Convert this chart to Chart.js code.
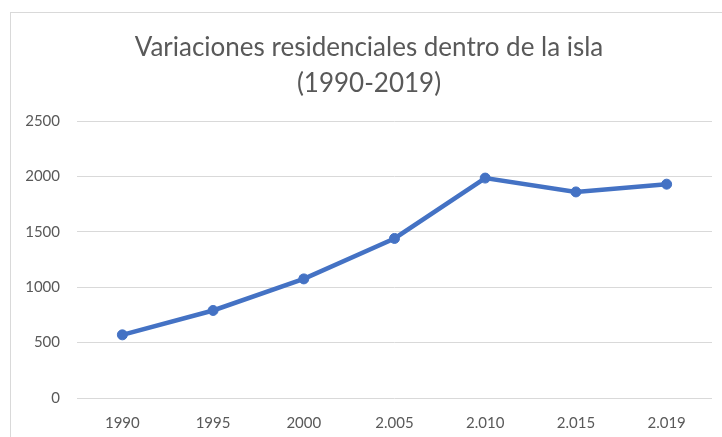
<!DOCTYPE html>
<html>
<head>
<meta charset="utf-8">
<script src="https://cdn.jsdelivr.net/npm/chart.js@4.4.1/dist/chart.umd.min.js"></script>
<style>
  html, body { margin: 0; padding: 0; background: #fff; }
  #frame { position: absolute; left: 10px; top: 12px; width: 800px; height: 500px;
           border-left: 1px solid #d9d9d9; border-top: 1px solid #d9d9d9; }
  #wrap { position: absolute; left: 0; top: 0; width: 722px; height: 437px; }
</style>
</head>
<body>
<div id="frame"></div>
<div id="wrap"><canvas id="lineChart"></canvas></div>
<script>
// datos
const years = ['1990', '1995', '2000', '2.005', '2.010', '2.015', '2.019'];
const residencias = [570, 790, 1075, 1440, 1985, 1860, 1930];
const yTicks = [0, 500, 1000, 1500, 2000, 2500];

const ctx = document.getElementById('lineChart').getContext('2d');

new Chart(ctx, {
    type: 'line',
    data: {
        labels: years,
        datasets: [{
            label: 'Variaciones',
            data: residencias,
            borderColor: '#4472c4',
            backgroundColor: '#4472c4',
            borderWidth: 4.5,
            pointBackgroundColor: '#4472c4',
            pointBorderColor: '#4472c4',
            pointRadius: 5,
            pointBorderWidth: 1,
            tension: 0,
            fill: false
        }]
    },
    options: {
        responsive: true,
        maintainAspectRatio: false,
        animation: false,
        layout: {
            padding: { left: 26, right: 10, top: 0, bottom: 0 }
        },
        plugins: {
            legend: { display: false },
            tooltip: { enabled: false },
            title: {
                display: true,
                text: ['Variaciones residenciales dentro de la isla', '(1990-2019)'],
                color: '#595959',
                font: { family: 'Lato', size: 26, weight: 'normal', lineHeight: 1.385 },
                padding: { top: 30, bottom: 19 }
            }
        },
        scales: {
            y: {
                min: yTicks[0],
                max: yTicks[yTicks.length - 1],
                afterBuildTicks: function(scale) {
                    scale.ticks = yTicks.map(v => ({ value: v }));
                },
                afterFit: function(scale) { scale.width = 51; },
                grid: { color: '#d9d9d9', lineWidth: 1, drawTicks: false },
                border: { display: false },
                ticks: {
                    color: '#595959',
                    padding: 17,
                    font: { family: 'Lato', size: 15 },
                    callback: function(value) { return String(value); }
                }
            },
            x: {
                offset: true,
                afterFit: function(scale) { scale.height = 39; },
                grid: { display: false },
                border: { display: false },
                ticks: {
                    color: '#595959',
                    padding: 8,
                    maxRotation: 0,
                    font: { family: 'Lato', size: 15 }
                }
            }
        }
    }
});
</script>
</body>
</html>
